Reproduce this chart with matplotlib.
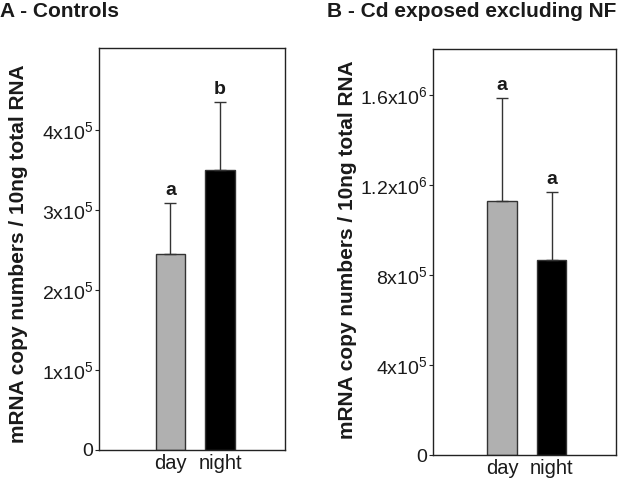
import matplotlib
matplotlib.use("Agg")
import matplotlib.pyplot as plt

categories = ["day", "night"]
ctrl_means = [2.45e5, 3.49e5]
ctrl_err = [0.64e5, 0.85e5]
ctrl_letters = ["a", "b"]
cd_means = [1.129e6, 0.867e6]
cd_err = [0.458e6, 0.302e6]
cd_letters = ["a", "a"]
ctrl_ticks = [0, 1e5, 2e5, 3e5, 4e5]
ctrl_ticklabels = ["0", r"$\mathregular{1x10^{5}}$", r"$\mathregular{2x10^{5}}$",
                   r"$\mathregular{3x10^{5}}$", r"$\mathregular{4x10^{5}}$"]
cd_ticks = [0, 4e5, 8e5, 1.2e6, 1.6e6]
cd_ticklabels = ["0", r"$\mathregular{4x10^{5}}$", r"$\mathregular{8x10^{5}}$",
                 r"$\mathregular{1.2x10^{6}}$", r"$\mathregular{1.6x10^{6}}$"]
colors = ["#b0b0b0", "#000000"]

FAM = ["Liberation Sans", "DejaVu Sans"]
plt.rcParams["font.family"] = FAM
plt.rcParams["mathtext.fontset"] = "custom"
plt.rcParams["mathtext.rm"] = "Liberation Sans"
plt.rcParams["mathtext.it"] = "Liberation Sans:italic"
plt.rcParams["mathtext.bf"] = "Liberation Sans:bold"

fig = plt.figure(figsize=(6.21, 4.87), dpi=100)
axA = fig.add_axes([0.1594, 0.0760, 0.2995, 0.8255])
axB = fig.add_axes([0.6973, 0.0657, 0.2947, 0.8337])

ylabel = "mRNA copy numbers / 10ng total RNA"
TXT = "#1a1a1a"

def draw(ax, means, errs, letters, ticks, ticklabels, ylim, xlim, title, title_x, lab_x, lab_y):
    x = list(range(len(categories)))
    ax.bar(x, means, width=0.6, color=colors, edgecolor="#333333", linewidth=1.0, zorder=2)
    for xi, m, e, l in zip(x, means, errs, letters):
        ax.errorbar([xi], [m], yerr=[[0], [e]], fmt="none", ecolor="#333333",
                    elinewidth=1.0, capsize=4, capthick=1.0, zorder=3)
        ax.annotate(l, (xi, m + e), xytext=(0, 9), textcoords="offset points",
                    ha="center", va="center", fontsize=14, fontweight="bold",
                    color=TXT)
    ax.set_xlim(*xlim)
    ax.set_ylim(*ylim)
    ax.set_xticks(x)
    ax.set_xticklabels(categories, fontsize=14.5, color=TXT)
    ax.set_yticks(ticks)
    ax.set_yticklabels(ticklabels, fontsize=14, color=TXT)
    ax.tick_params(axis="x", length=0, pad=3)
    ax.tick_params(axis="y", length=3, direction="out", pad=1, color="#222222")
    for s in ax.spines.values():
        s.set_linewidth(1.0)
        s.set_color("#222222")
    ax.set_ylabel(ylabel, fontsize=15, fontweight="bold", color=TXT)
    ax.yaxis.set_label_coords(lab_x, lab_y)
    fig.text(title_x, 0.976, title, fontsize=15, fontweight="bold",
             ha="left", va="center", color=TXT)

draw(axA, ctrl_means, ctrl_err, ctrl_letters, ctrl_ticks, ctrl_ticklabels,
     (0, 5.02e5), (-1.44, 2.31), "A - Controls", 0.0, -0.382, 0.488)
draw(axB, cd_means, cd_err, cd_letters, cd_ticks, cd_ticklabels,
     (0, 1.804e6), (-1.39, 2.30), "B - Cd exposed excluding NF", 327 / 621, -0.415, 0.506)

fig.savefig("out.png", dpi=100)
